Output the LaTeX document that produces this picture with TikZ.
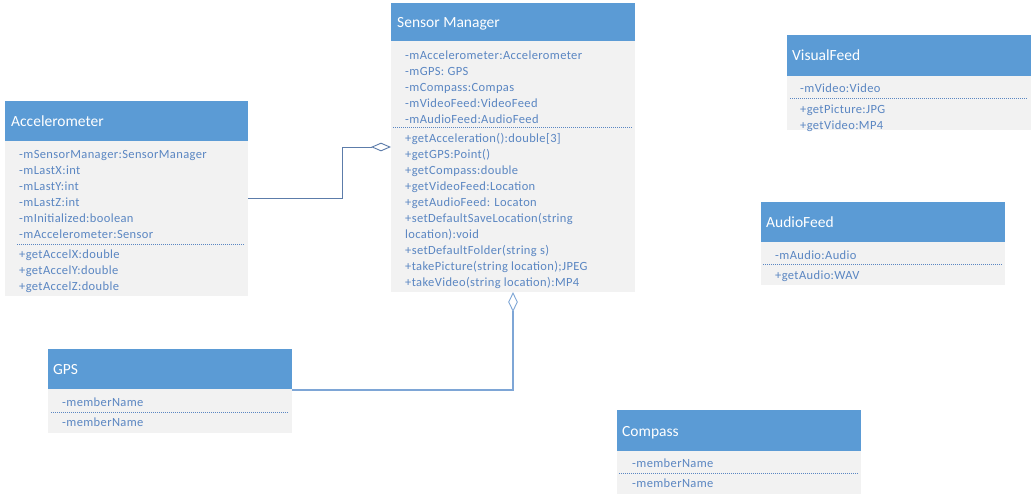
\documentclass[tikz,border=0pt]{standalone}
\usepackage{fontspec}
\setmainfont{Carlito}
\newfontfamily\memfont[LetterSpace=3]{Carlito}
\usetikzlibrary{shapes.geometric}
\definecolor{hdr}{HTML}{5B9BD5}
\definecolor{bodyc}{HTML}{F2F2F2}
\definecolor{txt}{HTML}{5A86C2}
\definecolor{connA}{HTML}{5C7CAA}
\definecolor{connB}{HTML}{7EA6D6}
\begin{document}
\begin{tikzpicture}[x=1pt,y=-1pt,
  hdrbox/.style={fill=hdr, draw=none, inner sep=0pt, anchor=north west},
  bodybox/.style={fill=bodyc, draw=none, inner sep=0pt, anchor=north west},
  title/.style={anchor=west, inner sep=0pt, text height=12pt, text depth=2pt, text=white, font=\fontsize{15.5}{18}\selectfont},
  mem/.style={anchor=west, inner sep=0pt, text height=10pt, text depth=2pt, text=txt, font=\memfont\fontsize{12.5}{14}\selectfont},
  sepline/.style={draw=txt, line width=0.6pt, dash pattern=on 1pt off 1pt},
  aggr/.style={diamond, draw, fill=white, inner sep=0pt, line width=0.9pt}
]
\useasboundingbox[fill=white] (0,0) rectangle (1033,498);

% ---------- Sensor Manager ----------
\node[hdrbox, minimum width=244pt, minimum height=38pt] (smh) at (391,3) {};
\node[bodybox, minimum width=244pt, minimum height=251pt] (smb) at (391,41) {};
\node[title] (smt) at (397,22) {Sensor Manager};
\node[mem] (sm1) at (405,55) {-mAccelerometer:Accelerometer};
\node[mem] (sm2) at (405,71) {-mGPS: GPS};
\node[mem] (sm3) at (405,87) {-mCompass:Compas};
\node[mem] (sm4) at (405,103) {-mVideoFeed:VideoFeed};
\node[mem] (sm5) at (405,119) {-mAudioFeed:AudioFeed};
\draw[sepline] (393,127) -- (632,127);
\node[mem] (sm6) at (405,138) {+getAcceleration():double[3]};
\node[mem] (sm7) at (405,154) {+getGPS:Point()};
\node[mem] (sm8) at (405,170) {+getCompass:double};
\node[mem] (sm9) at (405,186) {+getVideoFeed:Location};
\node[mem] (sm10) at (405,202) {+getAudioFeed: Locaton};
\node[mem] (sm11) at (405,218) {+setDefaultSaveLocation(string};
\node[mem] (sm12) at (405,234) {location):void};
\node[mem] (sm13) at (405,250) {+setDefaultFolder(string s)};
\node[mem] (sm14) at (405,266) {+takePicture(string location);JPEG};
\node[mem] (sm15) at (405,282) {+takeVideo(string location):MP4};

% ---------- Accelerometer ----------
\node[hdrbox, minimum width=243pt, minimum height=40pt] (ach) at (5,101) {};
\node[bodybox, minimum width=243pt, minimum height=155pt] (acb) at (5,141) {};
\node[title] (act) at (11,121) {Accelerometer};
\node[mem] (ac1) at (19,154) {-mSensorManager:SensorManager};
\node[mem] (ac2) at (19,170) {-mLastX:int};
\node[mem] (ac3) at (19,186) {-mLastY:int};
\node[mem] (ac4) at (19,202) {-mLastZ:int};
\node[mem] (ac5) at (19,218) {-mInitialized:boolean};
\node[mem] (ac6) at (19,234) {-mAccelerometer:Sensor};
\draw[sepline] (17,244) -- (245,244);
\node[mem] (ac7) at (19,254) {+getAccelX:double};
\node[mem] (ac8) at (19,270) {+getAccelY:double};
\node[mem] (ac9) at (19,286) {+getAccelZ:double};

% ---------- GPS ----------
\node[hdrbox, minimum width=244pt, minimum height=40pt] (gph) at (48,349) {};
\node[bodybox, minimum width=244pt, minimum height=44pt] (gpb) at (48,389) {};
\node[title] (gpt) at (53,369) {GPS};
\node[mem] (gp1) at (62,402) {-memberName};
\draw[sepline] (51,412) -- (289,412);
\node[mem] (gp2) at (62,422) {-memberName};

% ---------- VisualFeed ----------
\node[hdrbox, minimum width=244pt, minimum height=41pt] (vfh) at (787,35) {};
\node[bodybox, minimum width=244pt, minimum height=54pt] (vfb) at (787,76) {};
\node[title] (vft) at (792,55) {VisualFeed};
\node[mem] (vf1) at (800,88) {-mVideo:Video};
\draw[sepline] (790,98) -- (1028,98);
\node[mem] (vf2) at (800,109) {+getPicture:JPG};
\node[mem] (vf3) at (800,125) {+getVideo:MP4};

% ---------- AudioFeed ----------
\node[hdrbox, minimum width=244pt, minimum height=40pt] (afh) at (761,202) {};
\node[bodybox, minimum width=244pt, minimum height=43pt] (afb) at (761,242) {};
\node[title] (aft) at (766,222) {AudioFeed};
\node[mem] (af1) at (775,255) {-mAudio:Audio};
\draw[sepline] (763,264) -- (1002,264);
\node[mem] (af2) at (775,275) {+getAudio:WAV};

% ---------- Compass ----------
\node[hdrbox, minimum width=244pt, minimum height=41pt] (cph) at (617,410) {};
\node[bodybox, minimum width=244pt, minimum height=43pt] (cpb) at (617,451) {};
\node[title] (cpt) at (622,431) {Compass};
\node[mem] (cp1) at (632,463) {-memberName};
\draw[sepline] (619,473) -- (858,473);
\node[mem] (cp2) at (632,483) {-memberName};

% ---------- connectors ----------
\coordinate (acR) at (248,198);
\node[aggr, draw=connA, minimum width=18pt, minimum height=8pt] (dA) at (381,147) {};
\draw[connA, line width=1pt] (acR) -- ++(94,0) |- (dA.west);

\coordinate (gpR) at (292,390);
\node[aggr, draw=connB, minimum width=9pt, minimum height=18pt] (dB) at (513,302) {};
\draw[connB, line width=1.2pt] (gpR) -| (dB.south);
\end{tikzpicture}
\end{document}
